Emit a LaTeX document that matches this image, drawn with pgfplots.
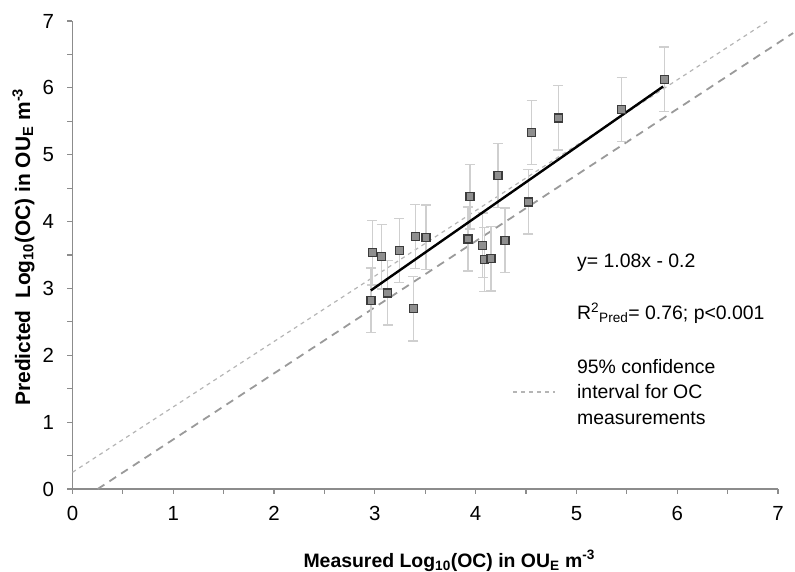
\documentclass[border=0pt]{standalone}
\usepackage{fontspec}
\setmainfont{Liberation Sans}
\usepackage{pgfplots}
\usepackage{pgfplotstable}
\pgfplotsset{compat=1.18}
\definecolor{axisgray}{HTML}{8C8C8C}
\definecolor{errgray}{HTML}{CFCFCF}
\definecolor{mfill}{HTML}{8F8F8F}
\definecolor{mdraw}{HTML}{3C3C3C}
\definecolor{lightdash}{HTML}{B5B5B5}
\definecolor{darkdash}{HTML}{9A9A9A}
\pgfplotstableread{
x y e
2.974 3.532 0.48
3.067 3.472 0.48
3.241 3.565 0.48
3.403 3.779 0.48
3.507 3.767 0.48
2.961 2.825 0.48
3.128 2.933 0.48
3.383 2.695 0.48
3.943 4.369 0.48
3.924 3.740 0.48
4.069 3.647 0.48
4.085 3.433 0.48
4.152 3.442 0.48
4.291 3.722 0.48
4.221 4.689 0.48
4.522 4.294 0.48
4.556 5.336 0.48
4.819 5.550 0.48
5.448 5.680 0.48
5.871 6.129 0.48
}\pts
\begin{document}
\begin{tikzpicture}
\begin{axis}[
  scale only axis, width=705.5bp, height=468bp,
  xmin=0, xmax=7, ymin=0, ymax=7,
  axis x line=bottom, axis y line=left,
  axis line style={-, draw=axisgray, line width=1.5bp},
  xtick={0,...,7}, ytick={0,...,7}, minor tick num=1,
  tick align=outside, major tick length=5bp, minor tick length=5bp,
  tick style={draw=axisgray, line width=1.2bp},
  ticklabel style={font=\fontsize{20.5}{25}\selectfont},
  xticklabel style={yshift=-9bp},
  yticklabel style={xshift=-10bp},
  /pgf/number format/assume math mode=true,
  clip=false,
  xlabel={Measured Log\textsubscript{10}(OC) in OU\textsubscript{E} m\textsuperscript{-3}},
  ylabel={Predicted\ \ Log\textsubscript{10}(OC) in OU\textsubscript{E} m\textsuperscript{-3}},
  xlabel style={font=\bfseries\fontsize{19.5}{23}\selectfont, at={(rel axis cs:0.534,0)}, anchor=center, yshift=-72bp},
  ylabel style={font=\bfseries\fontsize{21}{25}\selectfont, at={(rel axis cs:0,0.517)}, anchor=center, yshift=49bp},
]
\addplot[lightdash, line width=1.2bp, dash pattern=on 4bp off 4bp] coordinates {(0,0.25) (6.9,7.0)};
\addplot[darkdash, line width=1.8bp, dash pattern=on 8bp off 6bp] coordinates {(0.25,0) (7.15,6.82)};
\addplot[only marks, mark=none,
  error bars/.cd, y dir=both, y explicit, error mark=|,
  error bar style={draw=errgray, line width=1.3bp, solid},
  error mark options={draw=errgray, fill=errgray, line width=1.3bp, mark size=5bp, solid}]
  table[x=x, y=y, y error=e] {\pts};
\addplot[black, line width=2.4bp] coordinates {(2.96,2.97) (5.86,6.02)};
\addplot[only marks, mark=square*, mark size=4bp,
  mark options={fill=mfill, draw=mdraw, line width=1.2bp, solid}]
  table[x=x, y=y] {\pts};
\node[anchor=west, inner sep=0pt, font=\fontsize{19.5}{25}\selectfont] at (axis cs:5.005,3.39) {y= 1.08x - 0.2};
\node[anchor=west, inner sep=0pt, font=\fontsize{19.5}{25}\selectfont] at (axis cs:5.005,2.63) {R\textsuperscript{2}\textsubscript{Pred}= 0.76; p<0.001};
\node[anchor=west, inner sep=0pt, align=left, font=\fontsize{19.5}{25.5}\selectfont] at (axis cs:5.005,1.45) {95\% confidence\\interval for OC\\measurements};
\draw[lightdash, line width=1.2bp, dash pattern=on 4bp off 4bp] (axis cs:4.375,1.45) -- (axis cs:4.79,1.45);
\coordinate (sw) at (rel axis cs:0,0);
\coordinate (ne) at (rel axis cs:1,1);
\end{axis}
\pgfresetboundingbox
\path[use as bounding box] ([shift={(-72.5bp,-83bp)}]sw) rectangle ([shift={(17bp,21bp)}]ne);
\end{tikzpicture}
\end{document}
